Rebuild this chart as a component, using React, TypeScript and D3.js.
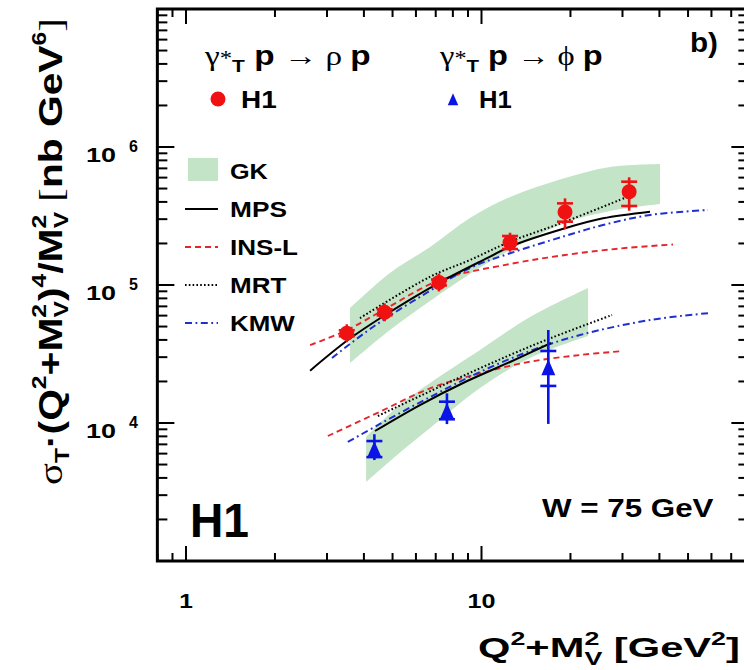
import React, { useLayoutEffect, useRef, useState } from "react";
import * as d3 from "d3";

// ---------------- data ----------------
// rho: gamma*_T p -> rho p, H1 points
const rhoX = [3.5, 4.7, 7.18, 12.49, 19.17, 31.6];
const rhoY = [44700, 63400, 104300, 203200, 338000, 474300];
const rhoTotLo = [38500, 54600, 89800, 174100, 253600, 345300];
const rhoTotHi = [51900, 73600, 121100, 239100, 424600, 603000];
const rhoStatLo = [42500, 60300, 99200, 182300, 287600, 373700];
const rhoStatHi = [47000, 66700, 109700, 226500, 390500, 560700];

// phi: gamma*_T p -> phi p, H1 points
const phiX = [4.34, 7.64, 16.83];
const phiY = [6370, 12080, 24900];
const phiTotLo = [5390, 9820, 9850];
const phiTotHi = [8290, 16400, 47200];
const phiStatLo = [5660, 10640, 18560];
const phiStatHi = [7400, 14270, 33260];

// model curves [x, y]
const rhoMPS: [number, number][] = [[2.63, 23950], [3.53, 39900], [4.72, 60600], [7.13, 102900], [10.69, 160400], [12.49, 189500], [19.17, 257600], [25.77, 304200], [37.18, 339800]];
const rhoMRT: [number, number][] = [[3.88, 57600], [6.7, 114800], [9.14, 151700], [12.49, 205900], [19.17, 287500], [31.08, 434200]];
const rhoINSL: [number, number][] = [[2.63, 36700], [3.51, 47200], [4.72, 67000], [7.24, 108600], [12.49, 141900], [19.17, 164900], [29.43, 183900], [44.47, 196600]];
const rhoKMW: [number, number][] = [[3.12, 29600], [4.29, 49600], [6.34, 84600], [9.14, 132800], [12.49, 169700], [19.17, 226500], [25.77, 272100], [37.18, 321600], [58.4, 349500]];
// GK band [x, low, high]
const rhoGK: [number, number, number][] = [[3.59, 27200, 68100], [4.9, 47200, 122200], [6.7, 76600, 188600], [9.14, 120100, 305900], [12.49, 179300, 434000], [19.17, 281400, 596400], [27.22, 343800, 716000], [40.19, 386000, 753000]];

const phiMPS: [number, number][] = [[4.36, 8750], [6.19, 13500], [8.8, 19820], [12.49, 27670], [17.19, 37990]];
const phiMRT: [number, number][] = [[4.46, 11240], [6.19, 15690], [8.8, 22270], [12.49, 31100], [17.19, 41300], [27.65, 60600]];
const phiINSL: [number, number][] = [[3.02, 8050], [4.53, 12070], [6.7, 17840], [9.88, 22900], [14.59, 27800], [21.54, 31100], [30.12, 33240]];
const phiKMW: [number, number][] = [[3.53, 7285], [4.53, 9835], [6.7, 15430], [9.88, 23420], [14.59, 33240], [21.54, 43420], [37.18, 55760], [59.33, 62660]];
const phiGK: [number, number, number][] = [[4.07, 3737, 7915], [5.18, 5862, 13060], [6.7, 9200, 19500], [9.88, 17930, 33800], [14.59, 29600, 58600], [22.94, 42700, 95100]];

const xTickLabels = ["1", "10"];
const xTickValues = [1, 10];
const yTickExps = ["4", "5", "6"];
const yTickValues = [1e4, 1e5, 1e6];
const legendNames = ["MPS", "INS-L", "MRT", "KMW"];

// ---------------- styles ----------------
const SANS = "'Liberation Sans', Arial, Helvetica, sans-serif";
const SERIF = "'Liberation Serif', 'DejaVu Serif', serif";
const RED = "#f01212";
const BLUE = "#0a14e6";
const GREEN = "#c3e4c6";
const lineStyles: Record<string, { stroke: string; dash?: string; width: number }> = {
  MPS: { stroke: "#000", width: 2 },
  "INS-L": { stroke: "#e3262c", dash: "6,4", width: 1.9 },
  MRT: { stroke: "#000", dash: "1.6,2.2", width: 2 },
  KMW: { stroke: "#2030d0", dash: "7,3.5,1.8,3.5", width: 2 },
};

function FitText({ x, y, w, rotate = 0, anchor = "start", children, ...rest }: any) {
  const ref = useRef<SVGTextElement>(null);
  const [s, setS] = useState(1);
  useLayoutEffect(() => {
    const el = ref.current;
    if (!el) return;
    const bw = el.getBBox().width;
    if (bw > 0) setS(w / bw);
  }, [w]);
  return (
    <g transform={`translate(${x},${y}) rotate(${rotate}) scale(${s},1)`}>
      <text ref={ref} textAnchor={anchor} {...rest}>
        {children}
      </text>
    </g>
  );
}

export default function App() {
  const W = 744, H = 670;
  const x = d3.scaleLog().domain([0.8, 80]).range([186 + Math.log10(0.8) * 295.5, 186 + Math.log10(80) * 295.5]);
  const y = d3.scaleLog().domain([1e3, 1e7]).range([561, 9]);
  const [x0, x1] = x.range();
  const [yb, yt] = y.range();

  const line = d3.line<[number, number]>().x((d) => x(d[0])).y((d) => y(d[1])).curve(d3.curveCatmullRom.alpha(0.5));
  const area = d3.area<[number, number, number]>().x((d) => x(d[0])).y0((d) => y(d[1])).y1((d) => y(d[2])).curve(d3.curveCatmullRom.alpha(0.5));

  const xt = x.ticks();
  const yTicks = y.ticks();
  const isMajor = (v: number) => Math.abs(Math.log10(v) - Math.round(Math.log10(v))) < 1e-6;

  const curves: [string, [number, number][]][] = [
    ["INS-L", rhoINSL], ["KMW", rhoKMW], ["MRT", rhoMRT], ["MPS", rhoMPS],
    ["INS-L", phiINSL], ["KMW", phiKMW], ["MRT", phiMRT], ["MPS", phiMPS],
  ];

  const errBar = (px: number, lo: number, hi: number, slo: number, shi: number, color: string, key: string) => (
    <g key={key} stroke={color} strokeWidth={2.6}>
      <line x1={x(px)} x2={x(px)} y1={y(lo)} y2={y(hi)} />
      <line x1={x(px) - 8} x2={x(px) + 8} y1={y(slo)} y2={y(slo)} />
      <line x1={x(px) - 8} x2={x(px) + 8} y1={y(shi)} y2={y(shi)} />
    </g>
  );
  const tri = (cx: number, cy: number, s = 1) => `M${cx},${cy - 9 * s}L${cx + 7 * s},${cy + 7 * s}L${cx - 7 * s},${cy + 7 * s}Z`;

  const small = 20;
  return (
    <svg width={W} height={H} style={{ position: "absolute", left: 0, top: 0, background: "#fff" }} fontFamily={SANS}>
      <rect width={W} height={H} fill="#fff" />
      {/* GK bands */}
      <path d={area(rhoGK) || ""} fill={GREEN} />
      <path d={area(phiGK) || ""} fill={GREEN} />
      {/* model curves */}
      {curves.map(([name, data], i) => {
        const st = lineStyles[name];
        return <path key={i} d={line(data) || ""} fill="none" stroke={st.stroke} strokeWidth={st.width} strokeDasharray={st.dash} />;
      })}
      {/* rho data */}
      {rhoX.map((v, i) => errBar(v, rhoTotLo[i], rhoTotHi[i], rhoStatLo[i], rhoStatHi[i], RED, "re" + i))}
      {rhoX.map((v, i) => <circle key={"rc" + i} cx={x(v)} cy={y(rhoY[i])} r={7.5} fill={RED} />)}
      {/* phi data */}
      {phiX.map((v, i) => errBar(v, phiTotLo[i], phiTotHi[i], phiStatLo[i], phiStatHi[i], BLUE, "pe" + i))}
      {phiX.map((v, i) => <path key={"pt" + i} d={tri(x(v), y(phiY[i]))} fill={BLUE} />)}

      {/* frame & ticks */}
      <g stroke="#000" strokeWidth={2}>
        {xt.map((v, i) => {
          const L = isMajor(v) ? 15 : 8;
          return (
            <g key={"xt" + i}>
              <line x1={x(v)} x2={x(v)} y1={yb} y2={yb - L} />
              <line x1={x(v)} x2={x(v)} y1={yt} y2={yt + L} />
            </g>
          );
        })}
        {yTicks.map((v, i) => {
          const L = isMajor(v) ? 17 : 10;
          return (
            <g key={"yt" + i}>
              <line x1={x0} x2={x0 + L} y1={y(v)} y2={y(v)} />
              <line x1={x1} x2={x1 - L} y1={y(v)} y2={y(v)} />
            </g>
          );
        })}
      </g>
      <rect x={x0} y={yt} width={x1 - x0} height={yb - yt} fill="none" stroke="#000" strokeWidth={3} />

      {/* x tick labels */}
      {xTickValues.map((v, i) => (
        <FitText key={"xl" + i} x={x(v)} y={608} w={xTickLabels[i].length * 14} anchor="middle" fontSize={21} fontWeight="bold">
          {xTickLabels[i]}
        </FitText>
      ))}
      {/* y tick labels */}
      {yTickValues.map((v, i) => (
        <g key={"yl" + i} fontWeight="bold">
          <FitText x={86} y={y(v) + 15} w={30} fontSize={21}>10</FitText>
          <text x={129} y={y(v) + 5} fontSize={16}>{yTickExps[i]}</text>
        </g>
      ))}

      {/* axis titles */}
      <FitText x={478} y={657} w={262} fontSize={28} fontWeight="bold">
        <tspan>Q</tspan>
        <tspan fontSize={18} dy={-12}>2</tspan>
        <tspan dy={12}>+M</tspan>
        <tspan fontSize={18} dy={-12}>2</tspan>
        <tspan fontSize={18} dx={-10} dy={20}>V</tspan>
        <tspan dy={-8}> [GeV</tspan>
        <tspan fontSize={18} dy={-12}>2</tspan>
        <tspan dy={12}>]</tspan>
      </FitText>
      <FitText x={62} y={485} w={467} rotate={-90} fontSize={33} fontWeight="bold">
        <tspan fontFamily={SERIF} fontWeight="normal">σ</tspan>
        <tspan fontSize={small} dy={7}>T</tspan>
        <tspan dy={-7}>·(Q</tspan>
        <tspan fontSize={small} dy={-16}>2</tspan>
        <tspan dy={16}>+M</tspan>
        <tspan fontSize={small} dy={-16}>2</tspan>
        <tspan fontSize={small} dx={-11} dy={22}>V</tspan>
        <tspan dy={-6}>)</tspan>
        <tspan fontSize={small} dy={-16}>4</tspan>
        <tspan dy={16}>/M</tspan>
        <tspan fontSize={small} dy={-16}>2</tspan>
        <tspan fontSize={small} dx={-11} dy={22}>V</tspan>
        <tspan fontFamily={SERIF} fontWeight="normal" dy={-6}> [</tspan>
        <tspan>nb GeV</tspan>
        <tspan fontSize={small} dy={-16}>6</tspan>
        <tspan fontFamily={SERIF} fontWeight="normal" dy={16}>]</tspan>
      </FitText>

      {/* process headers */}
      {[["ρ", 205, 167], ["ϕ", 440, 164]].map(([g, px, w], i) => (
        <FitText key={"hd" + i} x={px} y={65} w={w} fontSize={27} fontWeight="bold">
          <tspan fontFamily={SERIF} fontWeight="normal">γ</tspan>
          <tspan fontFamily={SERIF} fontWeight="normal" fontSize={20}>*</tspan>
          <tspan fontSize={17} dy={7}>T</tspan>
          <tspan dy={-7}> p </tspan>
          <tspan fontFamily={SERIF} fontWeight="normal">{"→ " + g + " "}</tspan>
          <tspan>p</tspan>
        </FitText>
      ))}
      <circle cx={218} cy={99} r={7.5} fill={RED} />
      <FitText x={241} y={108} w={36} fontSize={23} fontWeight="bold">H1</FitText>
      <path d={tri(453, 100, 0.75)} fill={BLUE} />
      <FitText x={479} y={108} w={33} fontSize={23} fontWeight="bold">H1</FitText>
      <FitText x={690} y={52} w={28} fontSize={27} fontWeight="bold">b)</FitText>

      {/* model legend */}
      <rect x={188} y={158} width={30} height={23} fill={GREEN} />
      <FitText x={230} y={179} w={38} fontSize={22} fontWeight="bold">GK</FitText>
      {legendNames.map((n, i) => {
        const st = lineStyles[n];
        const ly = 209 + i * 38;
        const widths = [57, 68, 57, 65];
        return (
          <g key={"lg" + n}>
            <line x1={185} x2={218} y1={ly} y2={ly} stroke={st.stroke} strokeWidth={st.width} strokeDasharray={st.dash} />
            <FitText x={230} y={ly + 8} w={widths[i]} fontSize={22} fontWeight="bold">{n}</FitText>
          </g>
        );
      })}

      {/* annotations */}
      <FitText x={190} y={537} w={59} fontSize={48} fontWeight="bold">H1</FitText>
      <FitText x={542} y={517} w={172} fontSize={25} fontWeight="bold">W = 75 GeV</FitText>
    </svg>
  );
}
